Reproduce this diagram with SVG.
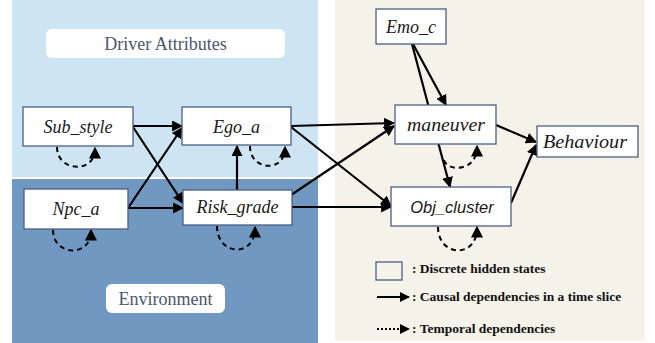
<svg xmlns="http://www.w3.org/2000/svg" width="655" height="343" viewBox="0 0 655 343">
<defs>
<style>
.box{fill:#fff;stroke:#4a5f85;stroke-width:1.3}
.nt{font-family:"Liberation Serif",serif;font-style:italic;font-size:18px;fill:#1a1a1a;text-anchor:middle}
.edge{stroke:#000;stroke-width:2.2;fill:none;marker-end:url(#ah)}
.loop{stroke:#000;stroke-width:2;fill:none;stroke-dasharray:5 4;marker-end:url(#ah2)}
.lbl{font-family:"Liberation Serif",serif;font-size:18px;fill:#4a5670;text-anchor:middle}
.leg{font-family:"Liberation Serif",serif;font-weight:bold;font-size:13.5px;fill:#111}
</style>
<marker id="ah" viewBox="0 0 10 10" refX="9" refY="5" markerWidth="5" markerHeight="5" orient="auto" markerUnits="strokeWidth">
<path d="M0,0 L10,5 L0,10 Z" fill="#000"/>
</marker>
<marker id="ah2" viewBox="0 0 10 10" refX="8" refY="5" markerWidth="6" markerHeight="6" orient="auto" markerUnits="strokeWidth">
<path d="M0,0 L10,5 L0,10 Z" fill="#000"/>
</marker>
</defs>
<rect x="0" y="0" width="655" height="343" fill="#fff"/>
<rect x="12" y="0" width="306" height="177" fill="#cde5f2"/>
<rect x="12" y="179" width="306" height="164" fill="#7098c0"/>
<rect x="335" y="0" width="310" height="341" fill="#f5f2ea"/>
<rect x="46" y="29" width="239" height="29" rx="6" fill="#fff"/>
<text class="lbl" x="165.5" y="50">Driver Attributes</text>
<rect x="106" y="284" width="119" height="29" rx="6" fill="#fff"/>
<text class="lbl" x="165.5" y="305">Environment</text>
<g id="connectors">
<path class="edge" d="M133,126 L182,126"/>
<path class="edge" d="M133,127 L183,203"/>
<path class="edge" d="M128,208 L182,128"/>
<path class="edge" d="M128,208 L183,208"/>
<path class="edge" d="M237,190 L237,146"/>
<path class="edge" d="M291,126 L394,123"/>
<path class="edge" d="M291,127 L391,206"/>
<path class="edge" d="M291,195 L394,126"/>
<path class="edge" d="M291,207 L391,207"/>
<path class="edge" d="M412,44 L450,187"/>
<path class="edge" d="M413,44 L446,105"/>
<path class="edge" d="M496,125 L536,142"/>
<path class="edge" d="M511,203 L536,145"/>
<path class="loop" d="M57,147 C57,172 95,174 95,149"/>
<path class="loop" d="M250,146 C250,171 285,173 285,148"/>
<path class="loop" d="M53,230 C53,256 91,258 91,231"/>
<path class="loop" d="M217,226 C217,256 255,258 255,228"/>
<path class="loop" d="M444,160 C447,172 477,172 477,147"/>
<path class="loop" d="M438,227 C438,257 477,259 477,228"/>
</g>
<g id="Sub_style"><rect class="box" x="23" y="107" width="110" height="39"/><text class="nt" x="78" y="133">Sub_style</text></g>
<g id="Ego_a"><rect class="box" x="182" y="107" width="109" height="38"/><text class="nt" x="236.5" y="133">Ego_a</text></g>
<g id="Npc_a"><rect class="box" x="24" y="189" width="104" height="40"/><text class="nt" x="76" y="215">Npc_a</text></g>
<g id="Risk_grade"><rect class="box" x="183" y="190" width="109" height="35"/><text class="nt" x="237.5" y="213">Risk_grade</text></g>
<g id="Emo_c"><rect class="box" x="376" y="9" width="70" height="35"/><text class="nt" x="411" y="33">Emo_c</text></g>
<g id="maneuver"><rect class="box" x="395" y="105" width="101" height="39"/><text class="nt" x="446" y="131" textLength="78" lengthAdjust="spacingAndGlyphs">maneuver</text></g>
<g id="Behaviour"><rect class="box" x="537" y="126" width="101" height="31"/><text class="nt" x="585" y="148" textLength="84" lengthAdjust="spacingAndGlyphs">Behaviour</text></g>
<g id="Obj_cluster"><rect class="box" x="391" y="187" width="120" height="39"/><text class="nt" x="452" y="213" style="font-family:'Liberation Sans',sans-serif;font-size:16.5px">Obj_cluster</text></g>
<g id="legend">
<rect x="376" y="262" width="26" height="18" fill="#f5f2ea" stroke="#4a5f85" stroke-width="1.3"/>
<text class="leg" x="412" y="273">: Discrete hidden states</text>
<path d="M377,297 L409,297" stroke="#000" stroke-width="2" marker-end="url(#ah)"/>
<text class="leg" x="412" y="301">: Causal dependencies in a time slice</text>
<path d="M377,329 L409,329" stroke="#000" stroke-width="2" stroke-dasharray="2 2" marker-end="url(#ah)"/>
<text class="leg" x="412" y="333">: Temporal dependencies</text>
</g>
</svg>
